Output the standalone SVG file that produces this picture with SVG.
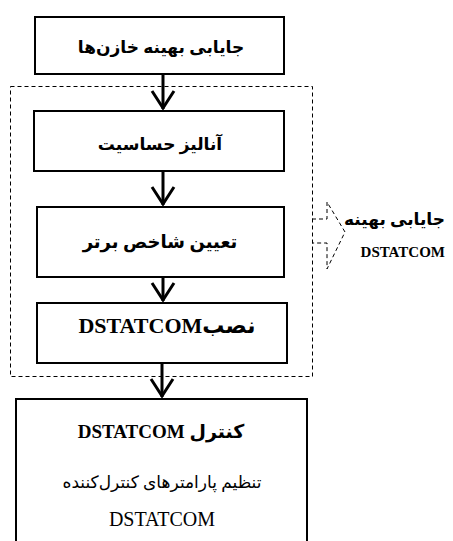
<svg xmlns="http://www.w3.org/2000/svg" width="453" height="541" viewBox="0 0 453 541">
<style>
.box{fill:#fff;stroke:#000;stroke-width:2}
.dash{fill:none;stroke:#000;stroke-width:1;stroke-dasharray:4 3}
.shaft{stroke:#000;stroke-width:3;fill:none}
.head{stroke:#000;stroke-width:3;fill:none;stroke-linejoin:miter}
text{font-family:"Liberation Serif","DejaVu Sans",serif;fill:#000;text-anchor:middle}
.b{font-weight:bold}
</style>
<rect width="453" height="541" fill="#fff"/>
<g id="group-optimal">
<rect class="dash" x="10.5" y="86.5" width="302" height="290"/>
<polyline class="dash" points="312,219 327,219 327,202 345,232 327,269 327,243 312,243"/>
<text class="b" x="445" y="225" direction="rtl" style="text-anchor:start" font-size="17">جایابی بهینه</text>
<text class="b" x="445" y="257" font-size="15" style="text-anchor:end">DSTATCOM</text>
</g>
<g id="connectors">
<line class="shaft" x1="163" y1="75" x2="163" y2="109"/>
<polyline class="head" points="152,91 163,108 174,91"/>
<line class="shaft" x1="163" y1="171" x2="163" y2="205"/>
<polyline class="head" points="152,187 163,204 174,187"/>
<line class="shaft" x1="163" y1="277" x2="163" y2="301"/>
<polyline class="head" points="152,283 163,300 174,283"/>
<line class="shaft" x1="162" y1="363" x2="162" y2="397"/>
<polyline class="head" points="151,379 162,396 173,379"/>
</g>
<g id="node1">
<rect class="box" x="35" y="17" width="249" height="57"/>
<text class="b" x="161" y="53" font-size="17" direction="rtl">جایابی بهینه خازن‌ها</text>
</g>
<g id="node2">
<rect class="box" x="34" y="111" width="250" height="60"/>
<text class="b" x="160" y="150" font-size="17" direction="rtl">آنالیز حساسیت</text>
</g>
<g id="node3">
<rect class="box" x="37" y="207" width="247" height="70"/>
<text class="b" x="160" y="248" font-size="18" direction="rtl">تعیین شاخص برتر</text>
</g>
<g id="node4">
<rect class="box" x="37" y="303" width="250" height="60"/>
<text class="b" x="167" y="333" font-size="22" direction="rtl">نصبDSTATCOM</text>
</g>
<g id="node5">
<rect class="box" x="16" y="399" width="291" height="150"/>
<text class="b" x="161" y="438" font-size="19" direction="rtl">کنترل DSTATCOM</text>
<text x="162" y="488" font-size="17" direction="rtl">تنظیم پارامترهای کنترل‌کننده</text>
<text x="162" y="526" font-size="20">DSTATCOM</text>
</g>
</svg>
